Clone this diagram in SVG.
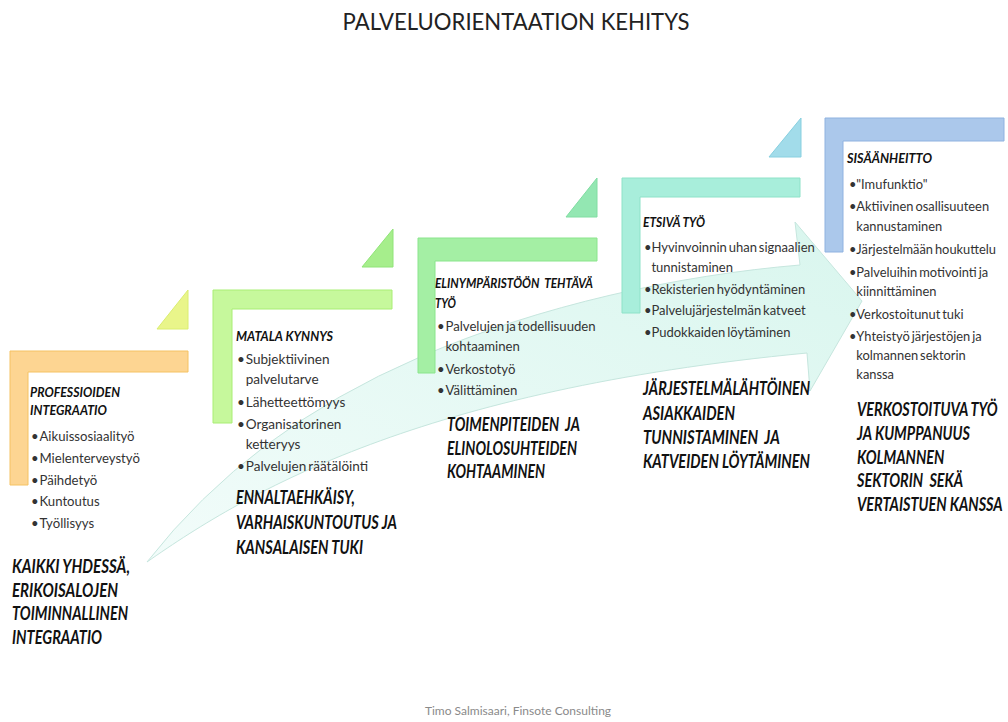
<svg xmlns="http://www.w3.org/2000/svg" width="1008" height="722" viewBox="0 0 1008 722">
  <defs>
    <style>
      text { font-family: Lato, "Liberation Sans", sans-serif; }
      .title { font-size: 24px; fill: #222; }
      .hd { font-size: 13.5px; font-weight: 700; font-style: italic; fill: #111; white-space: pre; }
      .li { font-size: 14px; fill: #333; word-spacing: -1.5px; }
      .big { font-size: 18.5px; font-weight: 700; font-style: italic; fill: #111; white-space: pre; }
      .foot { font-size: 12px; fill: #8a8a8a; }
      .bar { stroke-width: 1; }
    </style>
    <linearGradient id="arrowFill" x1="0" y1="1" x2="1" y2="0">
      <stop offset="0" stop-color="#f2fcfa"/>
      <stop offset="1" stop-color="#d9f6ee"/>
    </linearGradient>
  </defs>

  <rect width="1008" height="722" fill="#ffffff"/>

  <text class="title" x="516" y="30" text-anchor="middle" textLength="347" lengthAdjust="spacingAndGlyphs">PALVELUORIENTAATION KEHITYS</text>

  <!-- sweeping block arrow behind the steps -->
  <g id="connectors">
    <path d="M147,562 Q250,430 420,357 C540,305 680,275 800,265 L795,222 L862,301 L810,391 L807,353 C420,390 250,490 147,562 Z"
          fill="url(#arrowFill)" stroke="#c6e6de" stroke-width="1"/>
  </g>

  <!-- step 1 -->
  <g id="step-professioiden">
    <polygon points="157,329 188,329 188,290" fill="#e9f58a" stroke="#dbee70"/>
    <path class="bar" d="M10,351 H188 V372 H28 V485 H10 Z" fill="#fdd592" stroke="#f5c262"/>
    <text class="hd" x="30" y="397" textLength="90" lengthAdjust="spacingAndGlyphs">PROFESSIOIDEN</text>
    <text class="hd" x="30" y="415" textLength="77" lengthAdjust="spacingAndGlyphs">INTEGRAATIO</text>
    <g transform="matrix(0.94 0 0 1 1.86 0)">
      <text class="li" y="441"><tspan x="31">•</tspan><tspan x="40">Aikuissosiaalityö</tspan></text>
      <text class="li" y="463"><tspan x="31">•</tspan><tspan x="40">Mielenterveystyö</tspan></text>
      <text class="li" y="485"><tspan x="31">•</tspan><tspan x="40">Päihdetyö</tspan></text>
      <text class="li" y="506"><tspan x="31">•</tspan><tspan x="40">Kuntoutus</tspan></text>
      <text class="li" y="528"><tspan x="31">•</tspan><tspan x="40">Työllisyys</tspan></text>
    </g>
    <text class="big" x="12" y="573" textLength="118" lengthAdjust="spacingAndGlyphs">KAIKKI YHDESSÄ,</text>
    <text class="big" x="12" y="597" textLength="106" lengthAdjust="spacingAndGlyphs">ERIKOISALOJEN</text>
    <text class="big" x="12" y="620" textLength="116" lengthAdjust="spacingAndGlyphs">TOIMINNALLINEN</text>
    <text class="big" x="12" y="644" textLength="90" lengthAdjust="spacingAndGlyphs">INTEGRAATIO</text>
  </g>

  <!-- step 2 -->
  <g id="step-matala-kynnys">
    <polygon points="362,267 393,267 393,229" fill="#a6ee8c" stroke="#90e478"/>
    <path class="bar" d="M213,290 H392 V309 H232 V423 H213 Z" fill="#c6f89c" stroke="#a9ee74"/>
    <text class="hd" x="236" y="341" textLength="97" lengthAdjust="spacingAndGlyphs">MATALA KYNNYS</text>
    <g transform="matrix(0.97 0 0 1 7.11 0)">
      <text class="li" y="364"><tspan x="237">•</tspan><tspan x="246">Subjektiivinen</tspan></text>
      <text class="li" x="246" y="384">palvelutarve</text>
      <text class="li" y="407"><tspan x="237">•</tspan><tspan x="246">Lähetteettömyys</tspan></text>
      <text class="li" y="429"><tspan x="237">•</tspan><tspan x="246">Organisatorinen</tspan></text>
      <text class="li" x="246" y="449">ketteryys</text>
      <text class="li" y="471"><tspan x="237">•</tspan><tspan x="246">Palvelujen räätälöinti</tspan></text>
    </g>
    <text class="big" x="236" y="504" textLength="119" lengthAdjust="spacingAndGlyphs">ENNALTAEHKÄISY,</text>
    <text class="big" x="236" y="529" textLength="161" lengthAdjust="spacingAndGlyphs">VARHAISKUNTOUTUS JA</text>
    <text class="big" x="236" y="554" textLength="127" lengthAdjust="spacingAndGlyphs">KANSALAISEN TUKI</text>
  </g>

  <!-- step 3 -->
  <g id="step-elinymparisto">
    <polygon points="566,217 597,217 597,178" fill="#93e7b2" stroke="#80dda2"/>
    <path class="bar" d="M418,238 H597 V261 H435 V373 H418 Z" fill="#a4efa4" stroke="#8ae58c"/>
    <text class="hd" x="435" y="288" textLength="158" lengthAdjust="spacingAndGlyphs">ELINYMPÄRISTÖÖN  TEHTÄVÄ</text>
    <text class="hd" x="435" y="308" textLength="21" lengthAdjust="spacingAndGlyphs">TYÖ</text>
    <g transform="matrix(0.94 0 0 1 26.22 0)">
      <text class="li" y="331"><tspan x="437">•</tspan><tspan x="446">Palvelujen ja todellisuuden</tspan></text>
      <text class="li" x="446" y="351">kohtaaminen</text>
      <text class="li" y="374"><tspan x="437">•</tspan><tspan x="446">Verkostotyö</tspan></text>
      <text class="li" y="395"><tspan x="437">•</tspan><tspan x="446">Välittäminen</tspan></text>
    </g>
    <text class="big" x="447" y="431" textLength="133" lengthAdjust="spacingAndGlyphs">TOIMENPITEIDEN  JA</text>
    <text class="big" x="447" y="455" textLength="130" lengthAdjust="spacingAndGlyphs">ELINOLOSUHTEIDEN</text>
    <text class="big" x="447" y="478" textLength="98" lengthAdjust="spacingAndGlyphs">KOHTAAMINEN</text>
  </g>

  <!-- step 4 -->
  <g id="step-etsiva-tyo">
    <polygon points="769,157 801,157 801,118" fill="#a2dcea" stroke="#88d0e0"/>
    <path class="bar" d="M622,178 H800 V197 H640 V313 H622 Z" fill="#a8eedb" stroke="#8ee2c8"/>
    <text class="hd" x="643" y="227" textLength="62" lengthAdjust="spacingAndGlyphs">ETSIVÄ TYÖ</text>
    <g transform="matrix(0.93 0 0 1 45.08 0)">
      <text class="li" y="252"><tspan x="644">•</tspan><tspan x="652">Hyvinvoinnin uhan signaalien</tspan></text>
      <text class="li" x="652" y="272">tunnistaminen</text>
      <text class="li" y="294"><tspan x="644">•</tspan><tspan x="652">Rekisterien hyödyntäminen</tspan></text>
      <text class="li" y="315"><tspan x="644">•</tspan><tspan x="652">Palvelujärjestelmän katveet</tspan></text>
      <text class="li" y="337"><tspan x="644">•</tspan><tspan x="652">Pudokkaiden löytäminen</tspan></text>
    </g>
    <text class="big" x="643" y="395" textLength="167" lengthAdjust="spacingAndGlyphs">JÄRJESTELMÄLÄHTÖINEN</text>
    <text class="big" x="643" y="420" textLength="92" lengthAdjust="spacingAndGlyphs">ASIAKKAIDEN</text>
    <text class="big" x="643" y="444" textLength="137" lengthAdjust="spacingAndGlyphs">TUNNISTAMINEN  JA</text>
    <text class="big" x="643" y="468" textLength="167" lengthAdjust="spacingAndGlyphs">KATVEIDEN LÖYTÄMINEN</text>
  </g>

  <!-- step 5 -->
  <g id="step-sisaanheitto">
    <path class="bar" d="M825,118 H1004 V141 H843 V252 H825 Z" fill="#abc8eb" stroke="#8fb2e0"/>
    <text class="hd" x="847" y="163" textLength="85" lengthAdjust="spacingAndGlyphs">SISÄÄNHEITTO</text>
    <g transform="matrix(0.92 0 0 1 67.92 0)">
      <text class="li" y="189"><tspan x="849">•</tspan><tspan x="857">"Imufunktio"</tspan></text>
      <text class="li" y="211"><tspan x="849">•</tspan><tspan x="857">Aktiivinen osallisuuteen</tspan></text>
      <text class="li" x="857" y="231">kannustaminen</text>
      <text class="li" y="254"><tspan x="849">•</tspan><tspan x="857">Järjestelmään houkuttelu</tspan></text>
      <text class="li" y="277"><tspan x="849">•</tspan><tspan x="857">Palveluihin motivointi ja</tspan></text>
      <text class="li" x="857" y="296">kiinnittäminen</text>
      <text class="li" y="319"><tspan x="849">•</tspan><tspan x="857">Verkostoitunut tuki</tspan></text>
      <text class="li" y="341"><tspan x="849">•</tspan><tspan x="857">Yhteistyö järjestöjen ja</tspan></text>
      <text class="li" x="857" y="360">kolmannen sektorin</text>
      <text class="li" x="857" y="379">kanssa</text>
    </g>
    <!-- condensed around x=857 -->
    <g transform="matrix(0.78 0 0 1 188.54 0)">
      <text class="big" x="857" y="416">VERKOSTOITUVA TYÖ</text>
      <text class="big" x="857" y="440">JA KUMPPANUUS</text>
      <text class="big" x="857" y="464">KOLMANNEN</text>
      <text class="big" x="857" y="487">SEKTORIN  SEKÄ</text>
      <text class="big" x="857" y="511">VERTAISTUEN KANSSA</text>
    </g>
  </g>

  <text class="foot" x="518" y="715" text-anchor="middle">Timo Salmisaari, Finsote Consulting</text>
</svg>
